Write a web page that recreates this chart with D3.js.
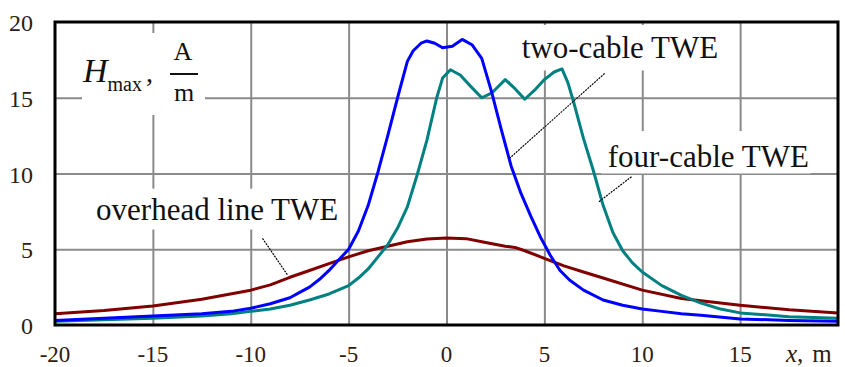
<!DOCTYPE html>
<html lang="en">
<head>
<meta charset="UTF-8">
<title>Hmax vs x</title>
<script src="https://d3js.org/d3.v7.min.js"></script>
<style>
  body { margin: 0; background: #fff; }
  svg { display: block; font-family: "Liberation Serif", "Times New Roman", serif; }
</style>
</head>
<body>
<svg width="845" height="367"></svg>
<script>
// two-cable TWE (blue)
const twoCable = [
  [-20, 0.3], [-17.5, 0.45], [-15, 0.6], [-12.5, 0.75], [-11, 0.9], [-10, 1.1], [-9, 1.4],
  [-8, 1.8], [-7.5, 2.15], [-7, 2.5], [-6.5, 3.0], [-6, 3.6], [-5.5, 4.3], [-5, 5.0],
  [-4.5, 6.2], [-4, 7.9], [-3.5, 10.1], [-3, 12.5], [-2.5, 15.0], [-2, 17.4], [-1.7, 18.1],
  [-1.3, 18.6], [-1, 18.75], [-0.6, 18.6], [-0.2, 18.3], [0.3, 18.4], [0.8, 18.85],
  [1.3, 18.5], [1.8, 17.6], [2.3, 15.4], [2.8, 12.9], [3.3, 10.5], [3.8, 8.7], [4.3, 7.2],
  [4.8, 5.8], [5.3, 4.6], [5.8, 3.6], [6.3, 2.95], [7, 2.3], [8, 1.65], [9, 1.3], [10, 1.05],
  [11, 0.9], [12, 0.75], [13, 0.65], [15, 0.4], [17.5, 0.3], [20, 0.25]
];
// four-cable TWE (teal)
const fourCable = [
  [-20, 0.25], [-17.5, 0.35], [-15, 0.45], [-12.5, 0.6], [-11, 0.75], [-10, 0.9], [-9, 1.05],
  [-8, 1.3], [-7, 1.65], [-6, 2.05], [-5, 2.6], [-4.5, 3.1], [-4, 3.7], [-3.5, 4.5], [-3, 5.3],
  [-2.5, 6.4], [-2, 7.8], [-1.5, 9.9], [-1, 12.2], [-0.5, 15.0], [-0.2, 16.3], [0.2, 16.85],
  [0.7, 16.5], [1.2, 15.8], [1.8, 15.0], [2.3, 15.3], [3.0, 16.2], [3.5, 15.6], [4.0, 14.9],
  [4.5, 15.5], [5.0, 16.2], [5.5, 16.7], [5.9, 16.9], [6.2, 16.0], [6.5, 14.7], [7.0, 12.3],
  [7.5, 10.2], [8.0, 7.9], [8.5, 6.1], [9.0, 4.9], [9.5, 4.1], [10, 3.5], [11, 2.6],
  [12, 1.95], [13, 1.45], [14, 1.05], [15, 0.8], [17.5, 0.55], [20, 0.45]
];
// overhead line TWE (dark red)
const overhead = [
  [-20, 0.75], [-17.5, 0.95], [-15, 1.25], [-12.5, 1.7], [-10, 2.3], [-9, 2.65], [-8, 3.15],
  [-7, 3.6], [-6, 4.05], [-5, 4.5], [-4, 4.9], [-3, 5.2], [-2, 5.5], [-1, 5.68], [0, 5.75],
  [1, 5.7], [2, 5.45], [3, 5.2], [3.5, 5.12], [4, 4.9], [5, 4.4], [6, 3.9], [7, 3.5],
  [8, 3.1], [10, 2.3], [12, 1.75], [15, 1.3], [17.5, 1.0], [20, 0.8]
];

const xTicks = [-20, -15, -10, -5, 0, 5, 10, 15];
const yTicks = [0, 5, 10, 15, 20];

// annotations: text anchor and leader line in data units
const notes = [
  {text: "two-cable TWE", tx: 3.84, ty: 17.6, box: [3.6, 19.8, 14.2, 16.8], line: [[8.08, 16.61], [3.22, 11.0]]},
  {text: "four-cable TWE", tx: 8.24, ty: 10.45, box: [7.9, 12.8, 18.6, 10.0], line: [[9.45, 9.79], [7.79, 8.14]]},
  {text: "overhead line TWE", tx: -17.9, ty: 6.93, box: [-18.5, 9.0, -5.7, 6.3], line: [[-9.4, 5.72], [-8.12, 3.3]]}
];

const svg = d3.select("svg");

const x = d3.scaleLinear().domain([-20, 20]).range([55, 838]);
const y = d3.scaleLinear().domain([0, 20]).range([325, 22]);

// grid
svg.append("g")
  .attr("transform", `translate(0,${y(0)})`)
  .call(d3.axisBottom(x).tickValues([-15, -10, -5, 0, 5, 10, 15]).tickSize(-(y(0) - y(20))).tickFormat(""))
  .call(g => g.select(".domain").remove())
  .call(g => g.selectAll("line").attr("stroke", "#8a8a8a").attr("stroke-width", 2));
svg.append("g")
  .attr("transform", `translate(${x(-20)},0)`)
  .call(d3.axisLeft(y).tickValues([5, 10, 15]).tickSize(-(x(20) - x(-20))).tickFormat(""))
  .call(g => g.select(".domain").remove())
  .call(g => g.selectAll("line").attr("stroke", "#8a8a8a").attr("stroke-width", 2));

// white boxes behind labels
notes.forEach(n => {
  svg.append("rect")
    .attr("x", x(n.box[0])).attr("y", y(n.box[1]))
    .attr("width", x(n.box[2]) - x(n.box[0])).attr("height", y(n.box[3]) - y(n.box[1]))
    .attr("fill", "#fff");
});
svg.append("rect").attr("x", 82).attr("y", 33).attr("width", 123).attr("height", 82).attr("fill", "#fff");

// curves
const line = d3.line().x(d => x(d[0])).y(d => y(d[1]));
[[overhead, "#800000"], [fourCable, "#008080"], [twoCable, "#0000ff"]].forEach(([data, c]) => {
  svg.append("path").datum(data)
    .attr("d", line)
    .attr("fill", "none")
    .attr("stroke", c)
    .attr("stroke-width", 3)
    .attr("stroke-linejoin", "round");
});

// leader lines and text
notes.forEach(n => {
  svg.append("line")
    .attr("x1", x(n.line[0][0])).attr("y1", y(n.line[0][1]))
    .attr("x2", x(n.line[1][0])).attr("y2", y(n.line[1][1]))
    .attr("stroke", "#000").attr("stroke-width", 1.2).attr("stroke-dasharray", "2,1");
  svg.append("text")
    .attr("x", x(n.tx)).attr("y", y(n.ty))
    .attr("font-size", 31).attr("fill", "#111")
    .text(n.text);
});

// frame
svg.append("rect")
  .attr("x", x(-20)).attr("y", y(20))
  .attr("width", x(20) - x(-20)).attr("height", y(0) - y(20))
  .attr("fill", "none").attr("stroke", "#000").attr("stroke-width", 3);

// tick labels
svg.append("g").selectAll("text").data(yTicks).join("text")
  .attr("x", 33).attr("y", d => y(d) + 9)
  .attr("text-anchor", "end").attr("font-size", 24).attr("fill", "#2e2010")
  .text(d => d);
svg.append("g").selectAll("text").data(xTicks).join("text")
  .attr("x", d => x(d)).attr("y", 362)
  .attr("text-anchor", "middle").attr("font-size", 23).attr("fill", "#2e2010")
  .text(d => d);
const xl = svg.append("text").attr("x", 786).attr("y", 362).attr("font-size", 25).attr("fill", "#2e2010");
xl.append("tspan").attr("font-style", "italic").text("x");
xl.append("tspan").text(",");
xl.append("tspan").attr("dx", 9).text("m");

// y axis title
const yl = svg.append("text").attr("x", 83).attr("y", 82).attr("fill", "#111");
yl.append("tspan").attr("font-style", "italic").attr("font-size", 34).text("H");
yl.append("tspan").attr("font-size", 20).attr("dy", 9).text("max");
yl.append("tspan").attr("font-size", 28).attr("dy", -9).attr("dx", 4).text(",");
svg.append("text").attr("x", 183).attr("y", 60).attr("text-anchor", "middle")
  .attr("font-size", 26).attr("fill", "#111").text("A");
svg.append("line").attr("x1", 170).attr("x2", 198).attr("y1", 74).attr("y2", 74)
  .attr("stroke", "#111").attr("stroke-width", 2);
svg.append("text").attr("x", 184).attr("y", 101).attr("text-anchor", "middle")
  .attr("font-size", 26).attr("fill", "#111").text("m");
</script>
</body>
</html>
